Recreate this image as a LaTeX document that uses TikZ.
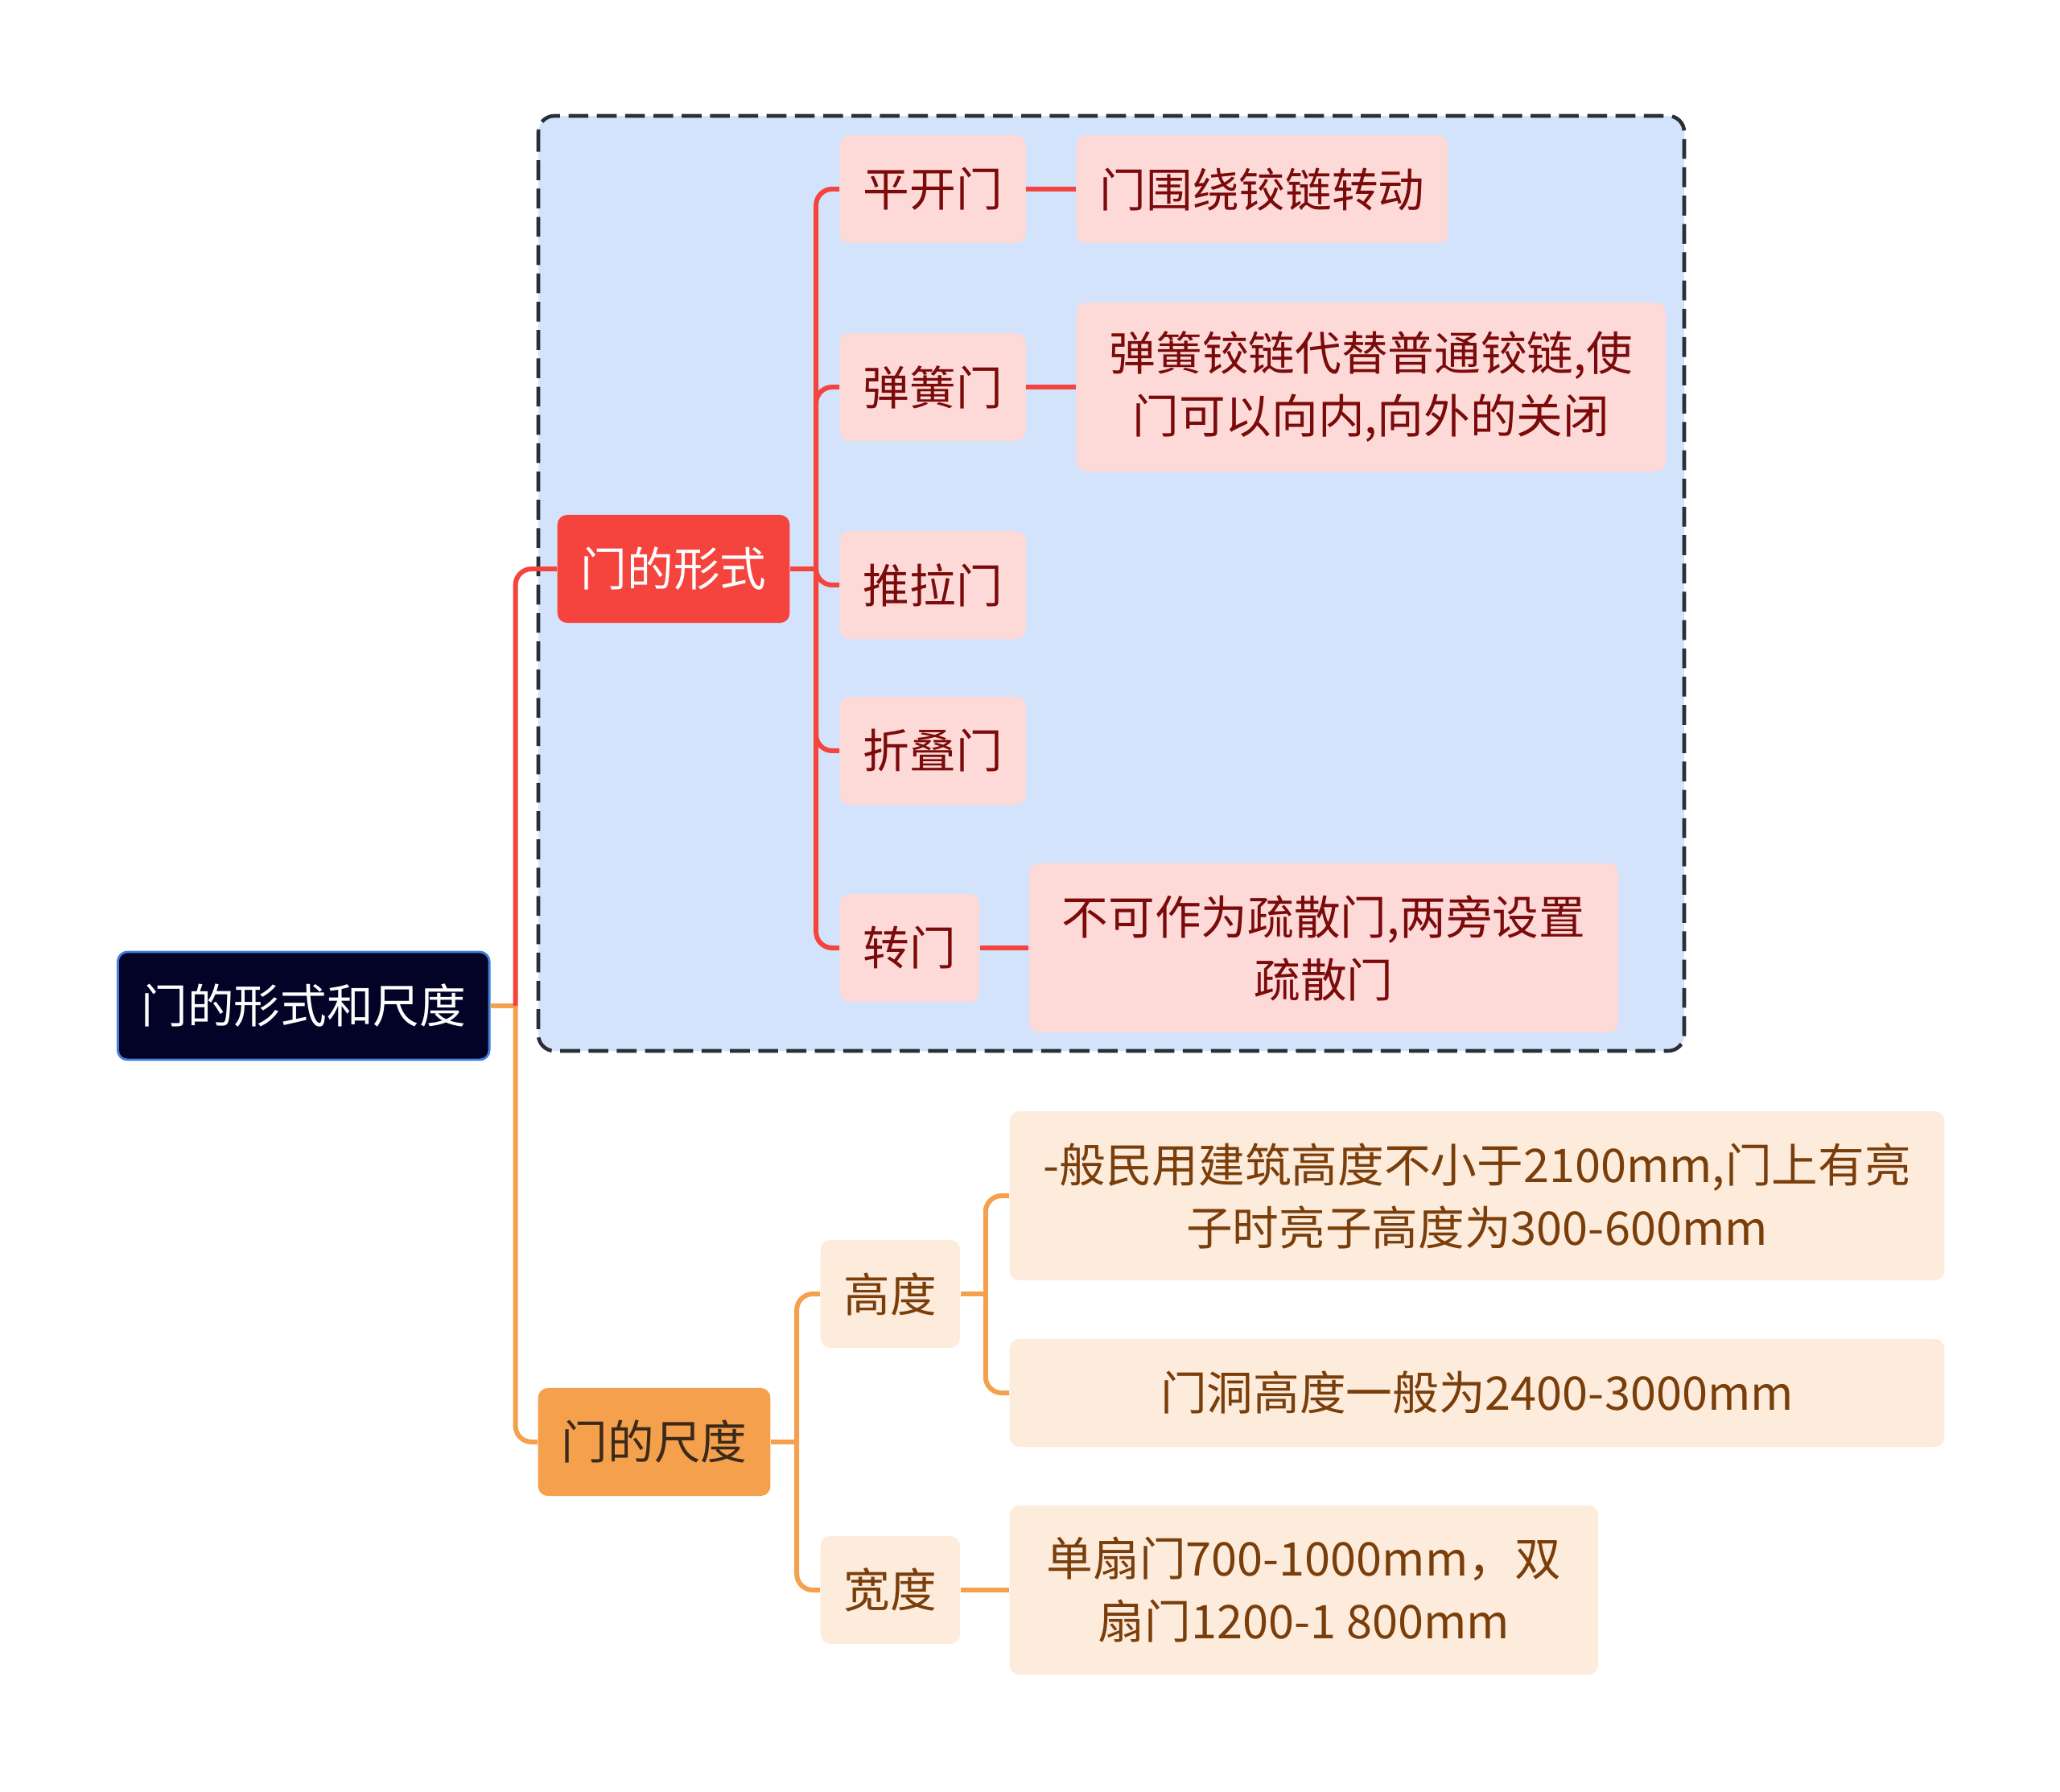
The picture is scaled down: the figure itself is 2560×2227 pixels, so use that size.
\documentclass[tikz,border=0pt]{standalone}
\usepackage{fontspec}
\setmainfont{Noto Sans CJK SC}
\definecolor{rootfill}{HTML}{030328}
\definecolor{rootline}{HTML}{3F7FD8}
\definecolor{redmain}{HTML}{F5443D}
\definecolor{redsoft}{HTML}{FDD9D8}
\definecolor{redtext}{HTML}{7B0A0A}
\definecolor{bluebg}{HTML}{D3E3FC}
\definecolor{boxline}{HTML}{2A2E35}
\definecolor{orangemain}{HTML}{F5A04C}
\definecolor{orangesoft}{HTML}{FDEBDC}
\definecolor{orangetext}{HTML}{7A3E0A}
\definecolor{sizetext}{HTML}{3B2A1A}
\tikzset{
  topic/.style={rounded corners=0.12cm, inner xsep=0.29cm, inner ysep=0pt,
    minimum height=1.34cm, align=center, anchor=west,
    font=\fontsize{16.4pt}{22.2pt}\selectfont},
  tworow/.style={minimum height=2.1cm},
  redbox/.style={topic, fill=redsoft, text=redtext},
  orangebox/.style={topic, fill=orangesoft, text=orangetext},
  redlink/.style={draw=redmain, line width=1.7pt},
  orangelink/.style={draw=orangemain, line width=1.7pt}
}
\begin{document}
\begin{tikzpicture}[x=0.01cm,y=-0.01cm]
\useasboundingbox (0,0) rectangle (2560,2227);
\draw[boxline, fill=bluebg, line width=1.3pt, dash pattern=on 7pt off 3pt,
  rounded corners=0.2cm] (669,144) rectangle (2093,1306);
\node[topic, fill=rootfill, draw=rootline, line width=0.8pt, text=white]
  (root) at (145,1250) {门的形式和尺度};
\node[topic, fill=redmain, text=white] (form) at (692,707) {门的形式};
\node[topic, fill=orangemain, text=sizetext] (size) at (668,1792) {门的尺度};
\node[redbox] (pk) at (1043,235) {平开门};
\node[redbox] (th) at (1043,481) {弹簧门};
\node[redbox] (tl) at (1043,727) {推拉门};
\node[redbox] (zd) at (1043,933) {折叠门};
\node[redbox] (zm) at (1043,1178) {转门};
\node[redbox] (pkleaf) at (1337,235) {门围绕铰链转动};
\node[redbox, tworow, minimum width=7.32cm] (thleaf) at (1337,481)
  {弹簧铰链代替普通铰链,使\\门可以向内,向外的关闭};
\node[redbox, tworow, minimum width=7.32cm] (zmleaf) at (1278,1178)
  {不可作为疏散门,两旁设置\\疏散门};
\node[orangebox] (gd) at (1019,1608) {高度};
\node[orangebox] (kd) at (1019,1976) {宽度};
\node[orangebox, tworow, minimum width=11.61cm] (gdtop) at (1254,1486)
  {-般民用建筑高度不小于2100mm,门上有亮\\子时亮子高度为300-600mm};
\node[orangebox, minimum width=11.61cm] (gdlow) at (1254,1731)
  {门洞高度一般为2400-3000mm};
\node[orangebox, tworow, minimum width=7.31cm] (kdleaf) at (1254,1976)
  {单扇门700-1000mm，双\\扇门1200-1 800mm};
\draw[orangelink] (root.east) -- ++(31,0) coordinate (rj);
\draw[redlink, rounded corners=0.2cm] (rj) |- (form.west);
\draw[orangelink, rounded corners=0.2cm] (rj) |- (size.west);
\draw[redlink] (form.east) -- ++(32,0) coordinate (fj);
\foreach \c in {pk,th,tl,zd,zm}
  \draw[redlink, rounded corners=0.2cm] (fj) |- (\c.west);
\draw[redlink] (pk.east) -- (pkleaf.west);
\draw[redlink] (th.east) -- (thleaf.west);
\draw[redlink] (zm.east) -- (zmleaf.west);
\draw[orangelink] (size.east) -- ++(32,0) coordinate (sj);
\foreach \c in {gd,kd}
  \draw[orangelink, rounded corners=0.2cm] (sj) |- (\c.west);
\draw[orangelink] (gd.east) -- ++(31,0) coordinate (gj);
\foreach \c in {gdtop,gdlow}
  \draw[orangelink, rounded corners=0.2cm] (gj) |- (\c.west);
\draw[orangelink] (kd.east) -- (kdleaf.west);
\end{tikzpicture}
\end{document}
